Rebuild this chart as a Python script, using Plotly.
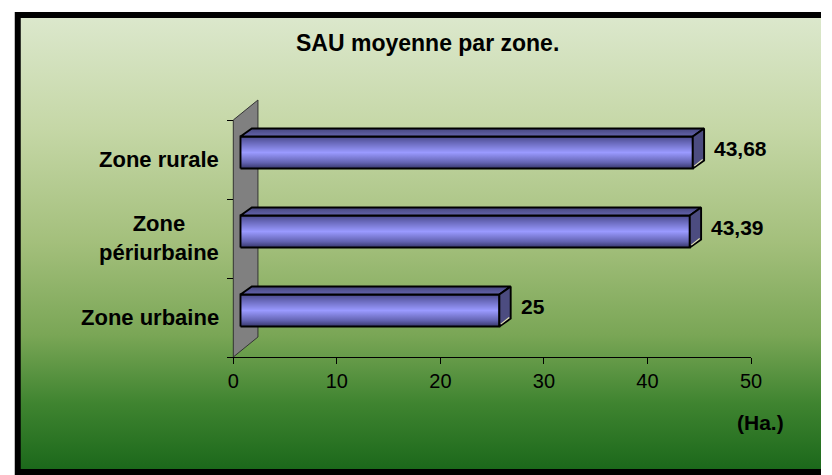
import plotly.graph_objects as go

# ---------------- data ----------------
categories = ["Zone urbaine", "Zone<br>périurbaine", "Zone rurale"]
values = [25, 43.39, 43.68]
value_labels = ["25", "43,39", "43,68"]
x_ticks = [0, 10, 20, 30, 40, 50]
title_text = "SAU moyenne par zone."
unit_text = "(Ha.)"

# ---------------- geometry (pixels) ----------------
W, H = 832, 475
X0_PX, X50_PX = 235.7, 761.0
Y_BOT_PX = 357.0
CAT_PX = 79.0
PXU = (X50_PX - X0_PX) / 50.0

X_MIN, X_MAX = -0.4, 50
Y_MIN, Y_MAX = -0.5, 2.85

WALL_DX, WALL_DY = 25 / PXU, 20 / CAT_PX
BAR_FX, BAR_FY = 7.3 / PXU, 7.0 / CAT_PX
BAR_DX, BAR_DY = 11.5 / PXU, 8.0 / CAT_PX
BAR_H = 16.0 / CAT_PX

FONT = "Liberation Sans, Arial, sans-serif"

x_dom = [(X0_PX + X_MIN * PXU) / W, X50_PX / W]
top_px = Y_BOT_PX - (Y_MAX - Y_MIN) * CAT_PX
y_dom = [1 - Y_BOT_PX / H, 1 - top_px / H]

fig = go.Figure()

# ---------------- background gradient (full-page axes) ----------------
bg_scale = [
    [0.0, "#dce8cd"],
    [0.25, "#c5d7a6"],
    [0.5, "#a3bf7b"],
    [0.7, "#7aa656"],
    [0.85, "#3f8430"],
    [1.0, "#1a671a"],
]
fig.add_trace(go.Scatter(
    x=[17, 900, 900, 17, 17], y=[15, 15, 472, 472, 15],
    mode="lines", fill="toself", line=dict(width=0, color="rgba(0,0,0,0)"),
    fillgradient=dict(type="vertical", colorscale=bg_scale, start=15, stop=472),
    xaxis="x", yaxis="y", hoverinfo="skip", showlegend=False,
))

# ---------------- side wall ----------------
fig.add_trace(go.Scatter(
    x=[0, 0, WALL_DX, WALL_DX, 0],
    y=[Y_MIN, 2.5, 2.5 + WALL_DY, Y_MIN + WALL_DY, Y_MIN],
    mode="lines", fill="toself", fillcolor="#808080",
    line=dict(color="#333333", width=1),
    xaxis="x2", yaxis="y2", hoverinfo="skip", showlegend=False,
))

front_scale = [
    [0.0, "#36366a"],
    [0.18, "#6262b0"],
    [0.5, "#9a9aff"],
    [0.8, "#6a6abc"],
    [1.0, "#4a4a8c"],
]
top_scale = [[0.0, "#6464ac"], [1.0, "#46467f"]]

for i, v in enumerate(values):
    yc = i + BAR_FY
    y0, y1 = yc - BAR_H, yc + BAR_H
    x0, x1 = BAR_FX, v + BAR_FX
    # front face
    fig.add_trace(go.Scatter(
        x=[x0, x1, x1, x0, x0], y=[y0, y0, y1, y1, y0],
        mode="lines", fill="toself",
        fillgradient=dict(type="vertical", colorscale=front_scale, start=y0, stop=y1),
        line=dict(color="black", width=1.9),
        xaxis="x2", yaxis="y2", hoverinfo="skip", showlegend=False,
    ))
    # top face
    fig.add_trace(go.Scatter(
        x=[x0, x1, x1 + BAR_DX, x0 + BAR_DX, x0],
        y=[y1, y1, y1 + BAR_DY, y1 + BAR_DY, y1],
        mode="lines", fill="toself",
        fillgradient=dict(type="vertical", colorscale=top_scale, start=y1, stop=y1 + BAR_DY),
        line=dict(color="black", width=1.9),
        xaxis="x2", yaxis="y2", hoverinfo="skip", showlegend=False,
    ))
    # side face
    fig.add_trace(go.Scatter(
        x=[x1, x1 + BAR_DX, x1 + BAR_DX, x1, x1],
        y=[y0, y0 + BAR_DY, y1 + BAR_DY, y1, y0],
        mode="lines", fill="toself", fillcolor="#4c4c80",
        line=dict(color="black", width=1.9),
        xaxis="x2", yaxis="y2", hoverinfo="skip", showlegend=False,
    ))
    # pale highlight on side bottom edge
    fig.add_trace(go.Scatter(
        x=[x1 + 0.14, x1 + BAR_DX - 0.14], y=[y0 + 0.03, y0 + BAR_DY + 0.012],
        mode="lines", line=dict(color="#e0e0b0", width=1.2),
        xaxis="x2", yaxis="y2", hoverinfo="skip", showlegend=False,
    ))

annotations = []
# category labels
for i, c in enumerate(categories):
    annotations.append(dict(
        x=0, y=i, xref="x2", yref="y2", xanchor="right", yanchor="middle",
        xshift=-12, text=f"<b>{c}</b>", showarrow=False, align="center",
        font=dict(family=FONT, size=22, color="black"),
    ))
# value labels
for i, (v, lab) in enumerate(zip(values, value_labels)):
    annotations.append(dict(
        x=v + BAR_FX + BAR_DX, y=i + BAR_FY + BAR_DY / 2, xref="x2", yref="y2",
        xanchor="left", yanchor="middle", xshift=8, text=f"<b>{lab}</b>",
        showarrow=False, font=dict(family=FONT, size=21, color="black"),
    ))
# title
annotations.append(dict(
    x=432.5 / W, y=1 - 43 / H, xref="paper", yref="paper", xanchor="center",
    yanchor="middle", text=f"<b>{title_text}</b>", showarrow=False,
    font=dict(family=FONT, size=23, color="black"),
))
# unit
annotations.append(dict(
    x=771 / W, y=1 - 422 / H, xref="paper", yref="paper", xanchor="center",
    yanchor="middle", text=f"<b>{unit_text}</b>", showarrow=False,
    font=dict(family=FONT, size=21, color="black"),
))

fig.update_layout(
    width=W, height=H, autosize=False,
    margin=dict(l=0, r=0, t=0, b=0),
    paper_bgcolor="white", plot_bgcolor="rgba(0,0,0,0)",
    showlegend=False,
    xaxis=dict(domain=[0, 1], range=[0, W], visible=False, fixedrange=True),
    yaxis=dict(domain=[0, 1], range=[H, 0], visible=False, fixedrange=True),
    xaxis2=dict(
        domain=x_dom, range=[X_MIN, X_MAX], anchor="y2",
        tickvals=x_ticks, ticktext=[str(t) for t in x_ticks],
        ticks="outside", ticklen=6, tickcolor="black", tickwidth=1,
        showline=True, linecolor="black", linewidth=1.2,
        showgrid=False, zeroline=False,
        tickfont=dict(family=FONT, size=20, color="black"),
        fixedrange=True,
    ),
    yaxis2=dict(
        domain=y_dom, range=[Y_MIN, Y_MAX], anchor="free", position=X0_PX / W,
        tickvals=[-0.5, 0.5, 1.5, 2.5], ticktext=["", "", "", ""],
        ticks="outside", ticklen=6, tickcolor="black", tickwidth=1,
        showline=False, showgrid=False, zeroline=False, fixedrange=True,
    ),
    annotations=annotations,
    shapes=[dict(
        type="path", xref="x", yref="y",
        path="M 900,15 L 17,15 L 17,472 L 900,472",
        line=dict(color="black", width=6), layer="above",
    )],
)

fig.write_html(
    "out.html",
    config={"displayModeBar": False, "staticPlot": True},
    post_script="document.body.style.margin='0';document.body.style.overflow='hidden';",
)
